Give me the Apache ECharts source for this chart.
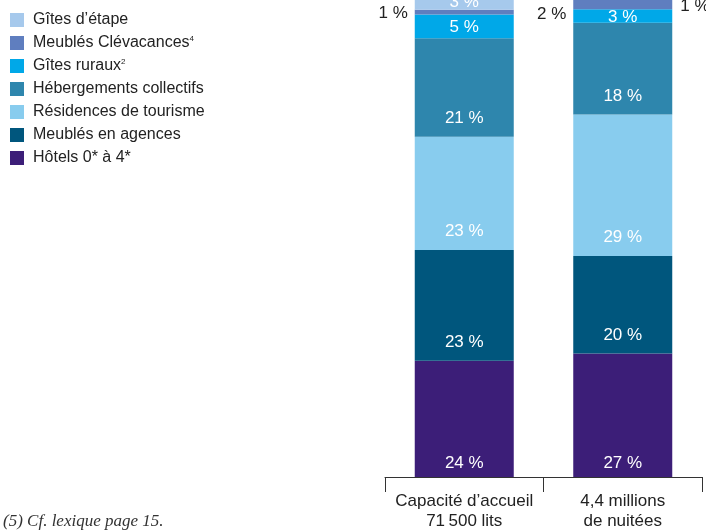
<!DOCTYPE html>
<html>
<head>
<meta charset="utf-8">
<script src="https://cdn.jsdelivr.net/npm/echarts@6/dist/echarts.min.js"></script>
<style>html,body{margin:0;padding:0;background:#fff}#c{width:706px;height:531px}</style>
</head>
<body>
<div id="c"></div>
<script>
// Categories (x axis)
const categories = ['Capacité d’accueil\n71\u202f500 lits', '4,4 millions\nde nuitées'];
// Series names, bottom to top of the stack
const seriesNames = ['Hôtels 0* à 4*', 'Meublés en agences', 'Résidences de tourisme', 'Hébergements collectifs', 'Gîtes ruraux', 'Meublés Clévacances', 'Gîtes d’étape'];
const footnotes = ['', '', '', '', '2', '4', ''];
// Shares (%), same order as seriesNames
const capacityShares = [24.1, 22.9, 23.5, 20.4, 4.9, 1.0, 3.2];
const nightsShares   = [25.6, 20.2, 29.3, 19.0, 2.8, 2.0, 1.1];
// Printed percentage labels
const capacityLabels = ['24 %', '23 %', '23 %', '21 %', '5 %', '1 %', '3 %'];
const nightsLabels   = ['27 %', '20 %', '29 %', '18 %', '3 %', '2 %', '1 %'];

const colors = ['#3c1e78', '#00567d', '#88ccee', '#2e86ad', '#00a8e8', '#5f7ebf', '#a6c9ec'];
const FONT = '"Liberation Sans Narrow", "Arial Narrow", sans-serif';

const shares = [capacityShares, nightsShares];
const labels = [capacityLabels, nightsLabels];

// label placement per series / category
function labelFor(si, ci) {
  const base = { show: true, color: '#fff', fontSize: 17, fontFamily: FONT, position: 'insideBottom', distance: 10 };
  if (si === 0) base.distance = 5;
  if (si === 4) { base.position = 'inside'; base.offset = [0, 1]; }
  if (si === 5) { base.position = 'left'; base.distance = 7; base.color = '#222'; base.offset = [0, ci === 0 ? 1 : 10]; }
  if (si === 6) {
    if (ci === 0) { base.position = 'inside'; }
    else { base.position = 'right'; base.distance = 8; base.color = '#222'; base.offset = [0, 9]; }
  }
  return base;
}

const series = seriesNames.map((name, si) => ({
  name: name,
  type: 'bar',
  stack: 'total',
  barWidth: 99,
  clip: false,
  itemStyle: { color: colors[si] },
  data: categories.map((c, ci) => ({
    value: shares[ci][si],
    label: Object.assign(labelFor(si, ci), { formatter: () => labels[ci][si] })
  }))
}));

const chart = echarts.init(document.getElementById('c'), null, { renderer: 'canvas' });
chart.setOption({
  animation: false,
  color: colors,
  grid: { left: 385, right: 4, top: 0, bottom: 51.5 },
  legend: {
    orient: 'vertical',
    left: 5,
    top: 7,
    itemWidth: 14,
    itemHeight: 14,
    itemGap: 7,
    icon: 'rect',
    data: seriesNames.slice().reverse(),
    formatter: (name) => {
      const i = seriesNames.indexOf(name);
      return footnotes[i] ? name + '{sup|' + footnotes[i] + '}' : name;
    },
    textStyle: {
      color: '#222', fontSize: 16, lineHeight: 16, fontFamily: FONT, padding: [0, 0, 0, 4],
      rich: { sup: { fontSize: 8, fontFamily: FONT, color: '#222', verticalAlign: 'top', lineHeight: 16, padding: [0, 0, 6, 0] } }
    }
  },
  xAxis: {
    type: 'category',
    data: categories,
    axisLine: { lineStyle: { color: '#333', width: 1 } },
    axisTick: { show: true, length: 15, lineStyle: { color: '#333' } },
    axisLabel: { interval: 0, color: '#222', fontSize: 17, lineHeight: 20, fontFamily: FONT, margin: 14 }
  },
  // the top of the stacks runs a few pixels beyond the frame in the reference
  yAxis: { type: 'value', min: 0, max: 98.8, show: false, splitLine: { show: false } },
  graphic: [{
    type: 'text', left: 3, top: 513,
    style: { text: '(5) Cf. lexique page 15.', font: 'italic 17px "Liberation Serif", serif', fill: '#333' }
  }],
  series: series
});
</script>
</body>
</html>
